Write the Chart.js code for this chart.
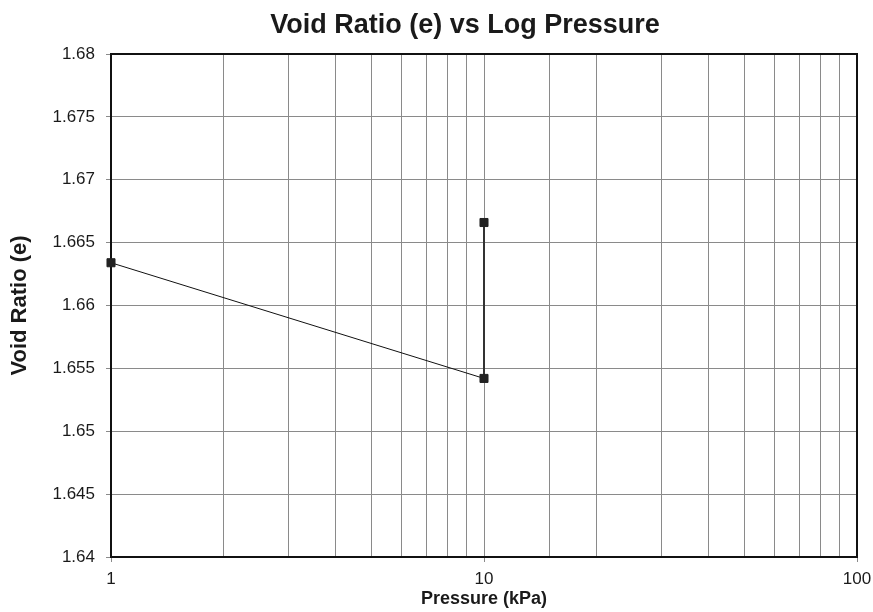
<!DOCTYPE html>
<html>
<head>
<meta charset="utf-8">
<script src="https://cdn.jsdelivr.net/npm/chart.js@4/dist/chart.umd.min.js"></script>
<style>
  html, body { margin: 0; padding: 0; background: #fff; }
  #wrap { width: 873px; height: 612px; }
</style>
</head>
<body>
<div id="wrap"><canvas id="myChart" width="873" height="612"></canvas></div>
<script>
// Данные графика
const pressure = [1, 10, 10];
const voidRatio = [1.6634, 1.6542, 1.6666];
const yMin = 1.64, yMax = 1.68, yStep = 0.005;
const xMin = 1, xMax = 100;

const titleText = 'Void Ratio (e) vs Log Pressure';
const xTitle = 'Pressure (kPa)';
const yTitle = 'Void Ratio (e)';

const FONT = "'Liberation Sans', Arial, sans-serif";
const gridGray = '#8a8a8a';

// Заголовок и рамка области построения
const framePlugin = {
    id: 'frame',
    beforeDatasetsDraw(chart) {
        const { ctx, chartArea: a } = chart;
        ctx.save();
        ctx.strokeStyle = '#111';
        ctx.lineWidth = 2;
        ctx.strokeRect(a.left, a.top, a.right - a.left, a.bottom - a.top);
        ctx.restore();
    },
    afterDraw(chart) {
        const ctx = chart.ctx;
        ctx.save();
        ctx.fillStyle = '#1a1a1a';
        ctx.font = 'bold 27px ' + FONT;
        ctx.textAlign = 'center';
        ctx.textBaseline = 'alphabetic';
        ctx.fillText(titleText, 465, 33);
        ctx.restore();
    }
};

const points = pressure.map((p, i) => ({ x: p, y: voidRatio[i] }));

new Chart(document.getElementById('myChart').getContext('2d'), {
    type: 'scatter',
    data: {
        datasets: [{
            data: points,
            showLine: true,
            clip: false,
            borderColor: '#111',
            borderWidth: 1,
            segment: {
                borderWidth: c => (c.p0.parsed.x === c.p1.parsed.x ? 2 : 1),
                borderColor: c => (c.p0.parsed.x === c.p1.parsed.x ? '#333' : '#111')
            },
            pointStyle: 'rect',
            pointRadius: 5.7,
            pointBackgroundColor: '#222',
            pointBorderColor: '#222',
            pointBorderWidth: 1
        }]
    },
    options: {
        responsive: false,
        animation: false,
        layout: { padding: { top: 54, right: 16, left: 0, bottom: 0 } },
        plugins: {
            legend: { display: false },
            tooltip: { enabled: false },
            title: { display: false }
        },
        scales: {
            x: {
                type: 'logarithmic',
                min: xMin,
                max: xMax,
                afterFit(scale) {
                    scale.height = 55;
                    scale.paddingLeft = 0;
                    scale.paddingRight = 0;
                },
                border: { display: false },
                grid: {
                    color: gridGray,
                    lineWidth: 1,
                    tickLength: 5,
                    tickColor: c => {
                        const v = c.tick ? c.tick.value : 0;
                        return Math.abs(Math.log10(v) - Math.round(Math.log10(v))) < 1e-9 ? gridGray : 'rgba(0,0,0,0)';
                    }
                },
                ticks: {
                    autoSkip: false,
                    maxRotation: 0,
                    padding: 7,
                    color: '#1a1a1a',
                    font: { family: FONT, size: 17 },
                    callback: v => {
                        const l = Math.log10(v);
                        return Math.abs(l - Math.round(l)) < 1e-9 ? String(v) : '';
                    }
                },
                title: {
                    display: true,
                    text: xTitle,
                    color: '#1a1a1a',
                    font: { family: FONT, size: 18, weight: 'bold' },
                    padding: { top: 0, bottom: 2 }
                }
            },
            y: {
                min: yMin,
                max: yMax,
                afterFit(scale) {
                    scale.width = 111;
                    scale.paddingTop = 0;
                    scale.paddingBottom = 0;
                },
                border: { display: false },
                grid: {
                    color: gridGray,
                    lineWidth: 1,
                    tickLength: 5,
                    tickColor: gridGray
                },
                ticks: {
                    stepSize: yStep,
                    padding: 11,
                    color: '#1a1a1a',
                    font: { family: FONT, size: 17 },
                    callback: v => parseFloat(v.toFixed(3)).toString()
                },
                title: {
                    display: true,
                    text: yTitle,
                    color: '#1a1a1a',
                    font: { family: FONT, size: 22, weight: 'bold' },
                    padding: { top: 7, bottom: 0 }
                }
            }
        }
    },
    plugins: [framePlugin]
});
</script>
</body>
</html>
